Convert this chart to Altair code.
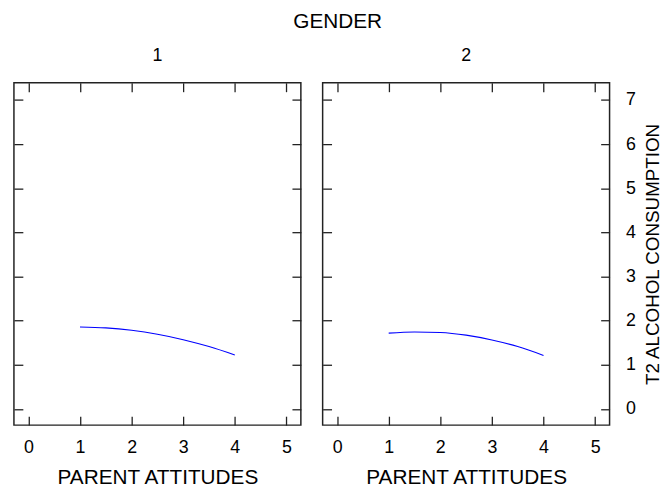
import altair as alt
import pandas as pd

x_vals = [1, 1.5, 2, 2.5, 3, 3.5, 4]
gender1 = [1.855, 1.834, 1.779, 1.69, 1.567, 1.41, 1.22]
gender2 = [1.715, 1.742, 1.73, 1.67, 1.56, 1.41, 1.21]
x_ticks = [0, 1, 2, 3, 4, 5]
y_ticks = [0, 1, 2, 3, 4, 5, 6, 7]

FONT = "Liberation Sans"
TICK = 9
W, H = 290, 346

xscale = alt.Scale(domain=[-0.28, 5.28], nice=False, zero=False)
yscale = alt.Scale(domain=[-0.37, 7.39], nice=False, zero=False)


def panel(values, label, right_labels):
    df = pd.DataFrame({"x": x_vals, "y": values})
    base = alt.Chart(df)
    line = base.mark_line(color="#0000ff", strokeWidth=1.1, interpolate="monotone").encode(
        x=alt.X("x:Q", scale=xscale,
                axis=alt.Axis(orient="bottom", values=x_ticks, title="PARENT ATTITUDES",
                              offset=-TICK, tickSize=TICK, domain=False, grid=False,
                              labelPadding=14, titlePadding=10, titleFontSize=21)),
        y=alt.Y("y:Q", scale=yscale,
                axis=alt.Axis(orient="left", values=y_ticks, title=None, labels=False,
                              offset=-TICK, tickSize=TICK, domain=False, grid=False)),
    )
    if right_labels:
        raxis = alt.Axis(orient="right", values=y_ticks, title="T2 ALCOHOL CONSUMPTION",
                         offset=-TICK, tickSize=TICK, domain=False, grid=False,
                         labelPadding=16, titlePadding=8, titleAngle=270,
                         titleBaseline="top", titleFontSize=19)
    else:
        raxis = alt.Axis(orient="right", values=y_ticks, title=None, labels=False,
                         offset=-TICK, tickSize=TICK, domain=False, grid=False)
    ghost = base.mark_line(opacity=0).encode(
        x=alt.X("x:Q", scale=xscale,
                axis=alt.Axis(orient="top", values=x_ticks, title=None, labels=False,
                              offset=-TICK, tickSize=TICK, domain=False, grid=False)),
        y=alt.Y("y:Q", scale=yscale, axis=raxis),
    )
    return alt.layer(line, ghost).resolve_axis(x="independent", y="independent").properties(
        width=W, height=H,
        title=alt.TitleParams(label, fontSize=18, font=FONT, fontWeight="normal",
                              anchor="middle", offset=17, color="#000000"),
    )


chart = alt.hconcat(
    panel(gender1, "1", False),
    panel(gender2, "2", True),
    spacing=18,
).properties(
    title=alt.TitleParams("GENDER", fontSize=21, font=FONT, fontWeight="normal",
                          anchor="middle", offset=15, color="#000000"),
    padding={"left": 4, "top": 0, "right": 0, "bottom": 0},
    background="white",
).configure_view(
    stroke="#222222", strokeWidth=1.5
).configure_title(
    font=FONT, fontWeight="normal", color="#000000"
).configure_axis(
    labelFont=FONT, titleFont=FONT, labelFontSize=18, titleFontSize=21,
    titleFontWeight="normal", labelColor="#000000", titleColor="#000000",
    tickColor="#222222", tickWidth=1.3,
)

chart.save("out.html", embed_options={"renderer": "svg", "actions": False})
